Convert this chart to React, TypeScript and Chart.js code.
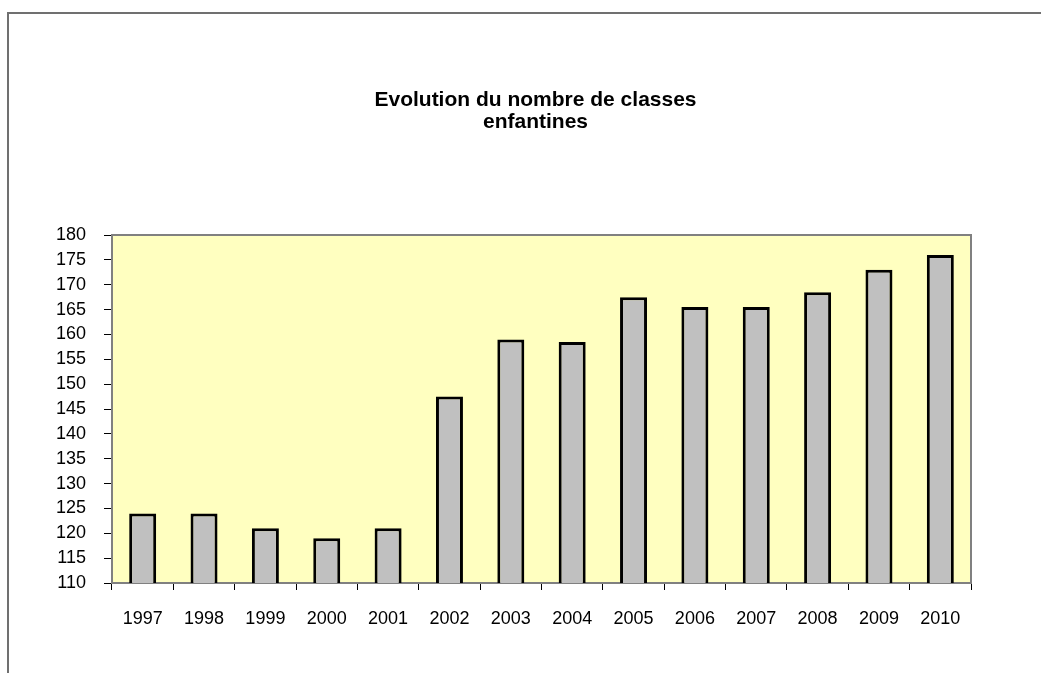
import React, { useEffect, useRef } from "react";
import { Chart, registerables } from "chart.js";

Chart.register(...registerables);

const categories = ["1997", "1998", "1999", "2000", "2001", "2002", "2003", "2004", "2005", "2006", "2007", "2008", "2009", "2010"];
const classes = [124, 124, 121, 119, 121, 147.5, 159, 158.5, 167.5, 165.5, 165.5, 168.5, 173, 176];
const yMin = 110;
const yMax = 180;
const yStep = 5;
const titleLines = ["Evolution du nombre de classes", "enfantines"];

const FONT = "Arial, 'Liberation Sans', sans-serif";

const plotBackground = {
  id: "plotBackground",
  beforeDraw(chart: any) {
    const { ctx, chartArea } = chart;
    ctx.save();
    ctx.fillStyle = "#FFFFC0";
    ctx.fillRect(chartArea.left, chartArea.top, chartArea.right - chartArea.left, chartArea.bottom - chartArea.top);
    ctx.restore();
  },
  beforeDatasetsDraw(chart: any) {
    const { ctx, chartArea } = chart;
    ctx.save();
    ctx.strokeStyle = "#808080";
    ctx.lineWidth = 2;
    ctx.strokeRect(chartArea.left, chartArea.top, chartArea.right - chartArea.left, chartArea.bottom - chartArea.top);
    ctx.restore();
  },
};

export default function App() {
  const ref = useRef<HTMLCanvasElement | null>(null);

  useEffect(() => {
    if (!ref.current) return;
    const chart = new Chart(ref.current, {
      type: "bar",
      data: {
        labels: categories,
        datasets: [
          {
            data: classes,
            backgroundColor: "#C0C0C0",
            borderColor: "#000000",
            borderWidth: 3,
            borderSkipped: false,
            barPercentage: 0.44,
            categoryPercentage: 1,
          },
        ],
      },
      options: {
        animation: false,
        responsive: false,
        devicePixelRatio: 1,
        layout: { padding: { left: 0, top: 235, right: 70, bottom: 0 } },
        plugins: {
          legend: { display: false },
          title: { display: false },
          tooltip: { enabled: false },
        },
        scales: {
          x: {
            offset: true,
            grid: {
              offset: true,
              drawOnChartArea: false,
              drawTicks: true,
              tickLength: 7,
              tickColor: "#000000",
              tickWidth: 1,
            },
            border: { display: true, color: "#808080", width: 2 },
            ticks: {
              color: "#000000",
              font: { family: FONT, size: 18 },
              padding: 18,
              maxRotation: 0,
              autoSkip: false,
            },
            afterFit: (scale: any) => {
              scale.height = 90;
            },
          },
          y: {
            min: yMin,
            max: yMax,
            grid: {
              drawOnChartArea: false,
              drawTicks: true,
              tickLength: 8,
              tickColor: "#000000",
              tickWidth: 1,
            },
            border: { display: true, color: "#808080", width: 2 },
            ticks: {
              stepSize: yStep,
              color: "#000000",
              font: { family: FONT, size: 18 },
              padding: 18,
            },
            afterFit: (scale: any) => {
              scale.width = 112;
            },
          },
        },
      },
      plugins: [plotBackground],
    });
    return () => chart.destroy();
  }, []);

  return (
    <div style={{ position: "fixed", left: 0, top: 0, width: 1041, height: 673, overflow: "hidden", background: "#fff" }}>
      <div
        style={{
          position: "absolute",
          left: 7,
          top: 12,
          width: 2000,
          height: 2000,
          borderTop: "2px solid #707070",
          borderLeft: "2px solid #707070",
        }}
      />
      <canvas ref={ref} width={1041} height={673} style={{ position: "absolute", left: 0, top: 0, width: 1041, height: 673 }} />
      <div
        style={{
          position: "absolute",
          left: 285,
          width: 501,
          top: 88,
          textAlign: "center",
          fontFamily: FONT,
          fontWeight: "bold",
          fontSize: 21,
          lineHeight: "21.6px",
          color: "#000",
        }}
      >
        {titleLines.map((l) => (
          <div key={l}>{l}</div>
        ))}
      </div>
    </div>
  );
}
